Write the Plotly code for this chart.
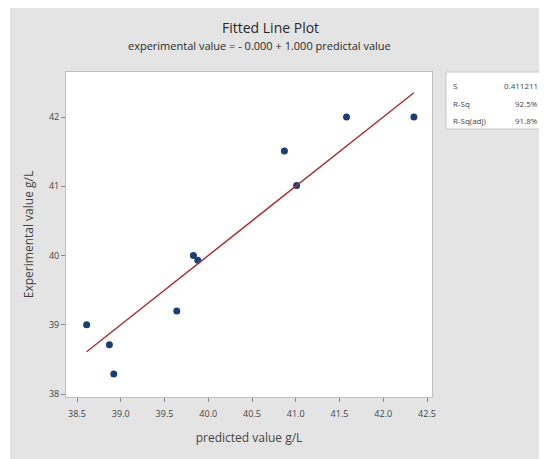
import plotly.graph_objects as go

# Data
predicted = [38.61, 38.87, 38.92, 39.64, 39.83, 39.88, 40.87, 41.01, 41.58, 42.35]
experimental = [39.0, 38.71, 38.29, 39.2, 40.0, 39.93, 41.51, 41.01, 42.0, 42.0]
intercept = 0.0
slope = 1.0
x_ticks = [38.5, 39.0, 39.5, 40.0, 40.5, 41.0, 41.5, 42.0, 42.5]
y_ticks = [38, 39, 40, 41, 42]
stat_names = ["S", "R-Sq", "R-Sq(adj)"]
stat_values = ["0.411211", "92.5%", "91.8%"]

OFF = 8  # page body margin
PAGE_W, PAGE_H = 547, 459
W, H = PAGE_W - OFF, PAGE_H - OFF
# plot area in page pixels: x 66..432, y 72..397
L, T = 66 - OFF, 72 - OFF
R, B = PAGE_W - 432, PAGE_H - 397
pw, ph = W - L - R, H - T - B

def px_x(p):
    return (p - OFF - L) / pw

def px_y(p):
    return 1 - (p - OFF - T) / ph

FONT = "Open Sans, Noto Sans, sans-serif"
GRAY = "#e4e4e4"

fig = go.Figure()
fig.add_trace(go.Scatter(
    x=predicted, y=experimental, mode="markers",
    marker=dict(color="#1b3f73", size=7),
    showlegend=False,
))
xmin, xmax = min(predicted), max(predicted)
fig.add_trace(go.Scatter(
    x=[xmin, xmax], y=[intercept + slope * xmin, intercept + slope * xmax],
    mode="lines", line=dict(color="#a8323a", width=1.5),
    showlegend=False,
))

shapes = [
    # thin white strip at left of the page
    dict(type="rect", xref="paper", yref="paper", x0=px_x(OFF), x1=px_x(10), y0=px_y(PAGE_H), y1=px_y(OFF),
         fillcolor="white", line=dict(width=0), layer="below"),
    # stats box
    dict(type="rect", xref="paper", yref="paper", x0=px_x(446), x1=px_x(543), y0=px_y(129), y1=px_y(72),
         fillcolor="white", line=dict(color="#c8c8c8", width=1)),
]

annotations = [
    dict(text="Fitted Line Plot", xref="paper", yref="paper", x=px_x(270), y=px_y(28),
         showarrow=False, font=dict(family=FONT, size=14, color="#2a2a2a"), xanchor="center", yanchor="middle"),
    dict(text="experimental value = - 0.000 + 1.000 predictal value", xref="paper", yref="paper",
         x=px_x(259), y=px_y(46), showarrow=False,
         font=dict(family=FONT, size=11, color="#2a2a2a"), xanchor="center", yanchor="middle"),
]
rows_y = [85, 103, 120]
for name, val, yy in zip(stat_names, stat_values, rows_y):
    annotations.append(dict(text=name, xref="paper", yref="paper", x=px_x(451), y=px_y(yy),
                            showarrow=False, xanchor="left", yanchor="middle",
                            font=dict(family=FONT, size=8, color="#444444")))
    annotations.append(dict(text=val, xref="paper", yref="paper", x=px_x(540), y=px_y(yy),
                            showarrow=False, xanchor="right", yanchor="middle",
                            font=dict(family=FONT, size=8, color="#444444")))

fig.update_layout(
    width=W, height=H,
    margin=dict(l=L, r=R, t=T, b=B),
    paper_bgcolor=GRAY, plot_bgcolor="white",
    shapes=shapes, annotations=annotations,
    font=dict(family=FONT, color="#444444"),
    xaxis=dict(
        range=[38.374, 42.557], tickvals=x_ticks, ticktext=[f"{v:.1f}" for v in x_ticks],
        showgrid=False, zeroline=False, ticks="outside", ticklen=4, tickcolor="#888888",
        ticklabelstandoff=4,
        tickfont=dict(size=9, color="#444444"), showline=True, linecolor="#c0c0c0", mirror=True,
        title=dict(text="predicted value g/L", font=dict(size=12, color="#444444"), standoff=14),
    ),
    yaxis=dict(
        range=[37.957, 42.65], tickvals=y_ticks, ticktext=[str(v) for v in y_ticks],
        showgrid=False, zeroline=False, ticks="outside", ticklen=4, tickcolor="#888888",
        tickfont=dict(size=9, color="#444444"), showline=True, linecolor="#c0c0c0", mirror=True,
        title=dict(text="Experimental value g/L", font=dict(size=12, color="#444444"), standoff=12),
    ),
)

fig.write_html("out.html")
